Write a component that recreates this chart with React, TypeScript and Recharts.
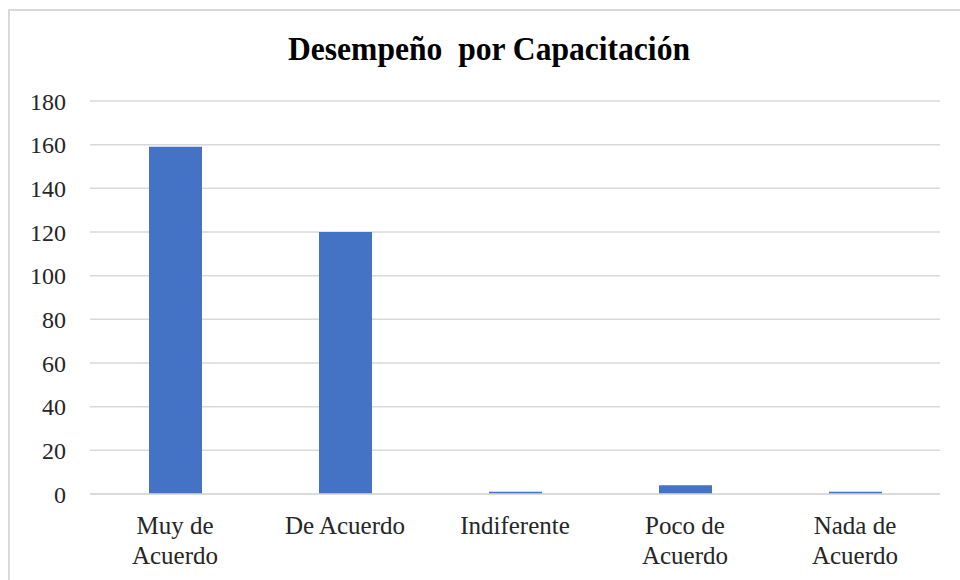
import React from "react";
import { BarChart, Bar, XAxis, YAxis, CartesianGrid } from "recharts";

const categories = [
  "Muy de Acuerdo",
  "De Acuerdo",
  "Indiferente",
  "Poco de Acuerdo",
  "Nada de Acuerdo",
];
const tickLines = [
  ["Muy de", "Acuerdo"],
  ["De Acuerdo"],
  ["Indiferente"],
  ["Poco de", "Acuerdo"],
  ["Nada de", "Acuerdo"],
];
const values = [159, 120, 1, 4, 1];
const yTicks = [0, 20, 40, 60, 80, 100, 120, 140, 160, 180];

const data = categories.map((name, i) => ({ name, value: values[i] }));

const FONT = "Liberation Serif";

// two-line category labels like the original
const CategoryTick = (props: any) => {
  const { x, y, index } = props;
  const lines = tickLines[index] || [];
  return (
    <text
      x={x}
      y={y}
      textAnchor="middle"
      fill="#262626"
      fontSize={25}
      fontFamily={FONT}
    >
      {lines.map((l, i) => (
        <tspan key={i} x={x} dy={i === 0 ? 32 : 30}>
          {l}
        </tspan>
      ))}
    </text>
  );
};

function App() {
  return (
    <div
      style={{
        position: "absolute",
        left: 0,
        top: 0,
        width: 960,
        height: 580,
        background: "#fff",
        overflow: "hidden",
      }}
    >
      <div
        style={{
          position: "absolute",
          left: 8,
          top: 9,
          width: 980,
          height: 600,
          border: "2px solid #d9d9d9",
        }}
      />
      <div style={{ position: "absolute", left: 0, top: 0 }}>
        <BarChart
          width={960}
          height={580}
          data={data}
          margin={{ top: 101, right: 20, left: 0, bottom: 0 }}
        >
          <text
            x={489}
            y={60}
            textAnchor="middle"
            fontFamily={FONT}
            fontWeight="bold"
            fontSize={33}
            fill="#000"
            textLength={402}
            lengthAdjust="spacingAndGlyphs"
            style={{ whiteSpace: "pre" }}
          >
            {"Desempeño  por Capacitación"}
          </text>
          <CartesianGrid
            vertical={false}
            stroke="#d9d9d9"
            strokeWidth={1.5}
          />
          <XAxis
            dataKey="name"
            axisLine={{ stroke: "#d9d9d9", strokeWidth: 1.5 }}
            tickLine={false}
            height={86}
            tick={<CategoryTick />}
            interval={0}
          />
          <YAxis
            width={90}
            domain={[0, 180]}
            ticks={yTicks}
            axisLine={false}
            tickLine={false}
            tickMargin={18}
            tick={{ fill: "#262626", fontSize: 24, fontFamily: FONT }}
          />
          <Bar
            dataKey="value"
            fill="#4472C4"
            barSize={53}
            isAnimationActive={false}
          />
        </BarChart>
      </div>
    </div>
  );
}

export default App;
